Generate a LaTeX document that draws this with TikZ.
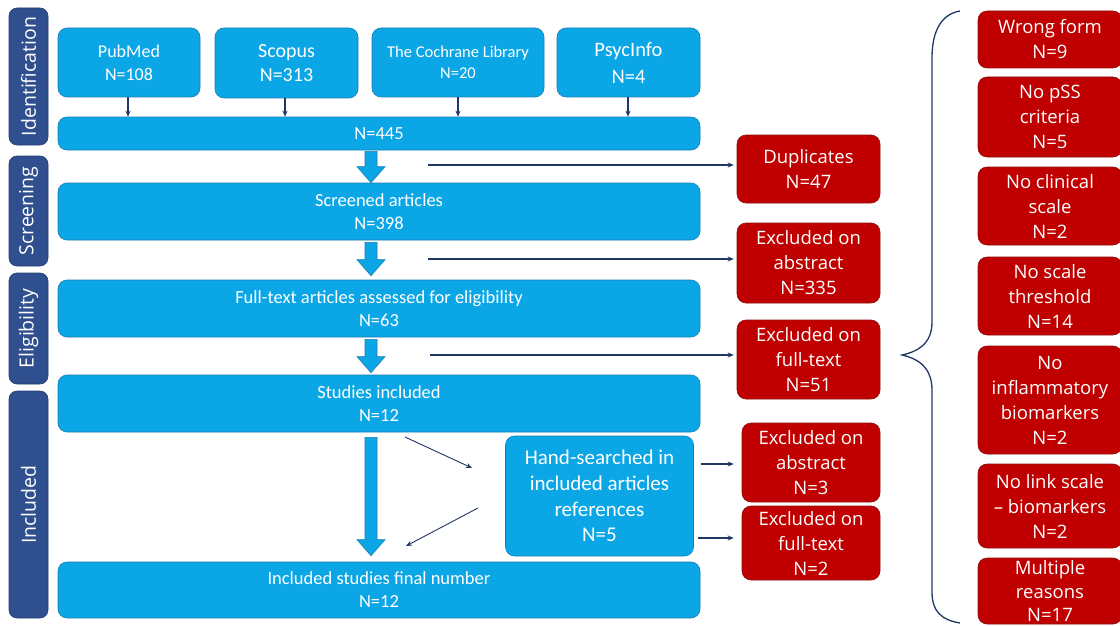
\documentclass[tikz,border=0pt]{standalone}
\usepackage{fontspec}
\setmainfont{Carlito}
\newfontfamily\bluefnt{Carlito}
\newfontfamily\redfnt{Open Sans}
\usetikzlibrary{arrows.meta,calc}
\definecolor{boxblue}{HTML}{0BA6E6}
\definecolor{blueedge}{HTML}{1C7DB5}
\definecolor{boxred}{HTML}{C00000}
\definecolor{rededge}{HTML}{8E1010}
\definecolor{phaseblue}{HTML}{2F4F8E}
\definecolor{navy}{HTML}{1F3864}
\newcommand\blockarrow[2]{%
  \filldraw[blockarr] let \p1=#1, \p2=#2 in
    (\x1-6pt,\y1) -- (\x1+6pt,\y1) -- (\x1+6pt,\y2+16pt) -- (\x1+14pt,\y2+16pt)
    -- (\x1,\y2) -- (\x1-14pt,\y2+16pt) -- (\x1-6pt,\y2+16pt) -- cycle;}
\begin{document}
\begin{tikzpicture}[x=1pt,y=-1pt,
  bbox/.style={draw=blueedge, line width=0.6pt, fill=boxblue, rounded corners=9pt,
    text=white, align=center, inner sep=0pt, font=\bluefnt\fontsize{18.5}{23}\selectfont},
  rbox/.style={draw=rededge, line width=0.6pt, fill=boxred, rounded corners=9pt,
    text=white, align=center, inner sep=0pt, font=\redfnt\fontsize{18.5}{25}\selectfont},
  phase/.style={fill=phaseblue, draw=phaseblue!80!black, line width=0.6pt, rounded corners=8pt,
    rotate=90, text=white, inner sep=0pt, minimum height=39pt,
    font=\redfnt\fontsize{19.5}{20}\selectfont},
  thinarr/.style={draw=navy, line width=1.1pt, -{Stealth[length=6pt,width=5pt]}},
  diagarr/.style={draw=navy, line width=0.9pt, -{Stealth[length=6pt,width=5pt]}},
  blockarr/.style={fill=boxblue, draw=blueedge, line width=0.6pt}]
\useasboundingbox (0,0) rectangle (1120,626);
\fill[white] (0,0) rectangle (1120,626);

% phase labels
\node[phase, minimum width=137pt] (pid) at (28.5,76.5) {Identification};
\node[phase, minimum width=110pt] (psc) at (28.5,211) {Screening};
\node[phase, minimum width=111pt] (pel) at (28.5,328.5) {Eligibility};
\node[phase, minimum width=227pt] (pin) at (28.5,504.5) {Included};

% sources
\node[bbox, minimum width=142pt, minimum height=69pt, font=\bluefnt\fontsize{18}{23}\selectfont] (pub) at (129,62.5) {PubMed\\N=108};
\node[bbox, minimum width=143pt, minimum height=70pt, font=\bluefnt\fontsize{20}{24}\selectfont] (sco) at (286.5,63) {Scopus\\N=313};
\node[bbox, minimum width=172pt, minimum height=69pt, font=\bluefnt\fontsize{16.5}{21}\selectfont] (coc) at (458,62.5) {The Cochrane Library\\N=20};
\node[bbox, minimum width=143pt, minimum height=69pt, font=\bluefnt\fontsize{20.5}{27}\selectfont] (psy) at (628.5,62.5) {PsycInfo\\N=4};

% main column
\node[bbox, minimum width=642pt, minimum height=33pt] (tot) at (379,133.5) {N=445};
\node[bbox, minimum width=642pt, minimum height=57pt] (scr) at (379,211.5) {Screened articles\\N=398};
\node[bbox, minimum width=642pt, minimum height=57pt] (ft) at (379,308.5) {Full-text articles assessed for eligibility\\N=63};
\node[bbox, minimum width=642pt, minimum height=57pt] (inc) at (379,403.5) {Studies included\\N=12};
\node[bbox, minimum width=188pt, minimum height=120pt, font=\bluefnt\fontsize{21}{25.7}\selectfont] (hand) at (599.5,496) {Hand-searched in\\included articles\\references\\N=5};
\node[bbox, minimum width=642pt, minimum height=56pt] (fin) at (379,590) {Included studies final number\\N=12};

% middle exclusions
\node[rbox, minimum width=143pt, minimum height=68pt] (dup) at (808.5,169) {Duplicates\\N=47};
\node[rbox, minimum width=143pt, minimum height=80pt] (exa) at (808.5,263) {Excluded on\\abstract\\N=335};
\node[rbox, minimum width=143pt, minimum height=79pt] (exf) at (808.5,359.5) {Excluded on\\full-text\\N=51};
\node[rbox, minimum width=138pt, minimum height=79pt] (exa2) at (811,462.5) {Excluded on\\abstract\\N=3};
\node[rbox, minimum width=138pt, minimum height=74pt] (exf2) at (811,543) {Excluded on\\full-text\\N=2};

% right reasons
\node[rbox, minimum width=144pt, minimum height=57pt] (wf) at (1050,39.5) {Wrong form\\N=9};
\node[rbox, minimum width=144pt, minimum height=80pt] (pss) at (1050,117) {No pSS\\criteria\\N=5};
\node[rbox, minimum width=144pt, minimum height=78pt] (cli) at (1050,206) {No clinical\\scale\\N=2};
\node[rbox, minimum width=144pt, minimum height=78pt] (thr) at (1050,296) {No scale\\threshold\\N=14};
\node[rbox, minimum width=144pt, minimum height=108pt] (inf) at (1050,400) {No\\inflammatory\\biomarkers\\N=2};
\node[rbox, minimum width=144pt, minimum height=84pt] (lnk) at (1050,506) {No link scale\\– biomarkers\\N=2};
\node[rbox, minimum width=144pt, minimum height=66pt, font=\redfnt\fontsize{18.5}{23.5}\selectfont] (mul) at (1050,591) {Multiple\\reasons\\N=17};

% source arrows
\draw[thinarr] (pub.south -| 128,0) -- (tot.north -| 128,0);
\draw[thinarr] (sco.south -| 285,0) -- (tot.north -| 285,0);
\draw[thinarr] (coc.south) -- (coc.south |- tot.north);
\draw[thinarr] (psy.south -| 628,0) -- (tot.north -| 628,0);

% block arrows
\coordinate (ax) at (371,0);
\blockarrow{($(ax |- tot.south)+(0,1)$)}{(ax |- scr.north)}
\blockarrow{($(ax |- scr.south)+(0,2)$)}{($(ax |- ft.north)+(0,-4)$)}
\blockarrow{($(ax |- ft.south)+(0,2)$)}{($(ax |- inc.north)+(0,-2)$)}
\blockarrow{($(ax |- inc.south)+(0,5)$)}{($(ax |- fin.north)+(0,-6)$)}

% exclusion arrows
\coordinate (t1) at (428,165);
\coordinate (t2) at (428,259);
\coordinate (t3) at (430,355);
\draw[thinarr, shorten >=3pt] (t1) -- (t1 -| dup.west);
\draw[thinarr, shorten >=3pt] (t2) -- (t2 -| exa.west);
\draw[thinarr, shorten >=3pt] (t3) -- (t3 -| exf.west);
\coordinate (h1) at (701,464);
\coordinate (h2) at (698,538);
\draw[thinarr, shorten >=8pt] (h1) -- (h1 -| exa2.west);
\draw[thinarr, shorten >=8pt] (h2) -- (h2 -| exf2.west);

% diagonal arrows
\coordinate (g1) at (405,437);
\coordinate (g2) at (472,468);
\coordinate (g3) at (478,508);
\coordinate (g4) at (406,546);
\draw[diagarr] (g1) -- (g2);
\draw[diagarr] (g3) -- (g4);

% brace
\draw[navy, line width=1.3pt] (960,11) .. controls (942,14) and (932,30) .. (932,58)
  -- (932,322) .. controls (932,345) and (916,352) .. (902,355)
  .. controls (916,358) and (932,366) .. (932,390)
  -- (932,592) .. controls (932,612) and (942,620) .. (960,623);
\end{tikzpicture}
\end{document}
